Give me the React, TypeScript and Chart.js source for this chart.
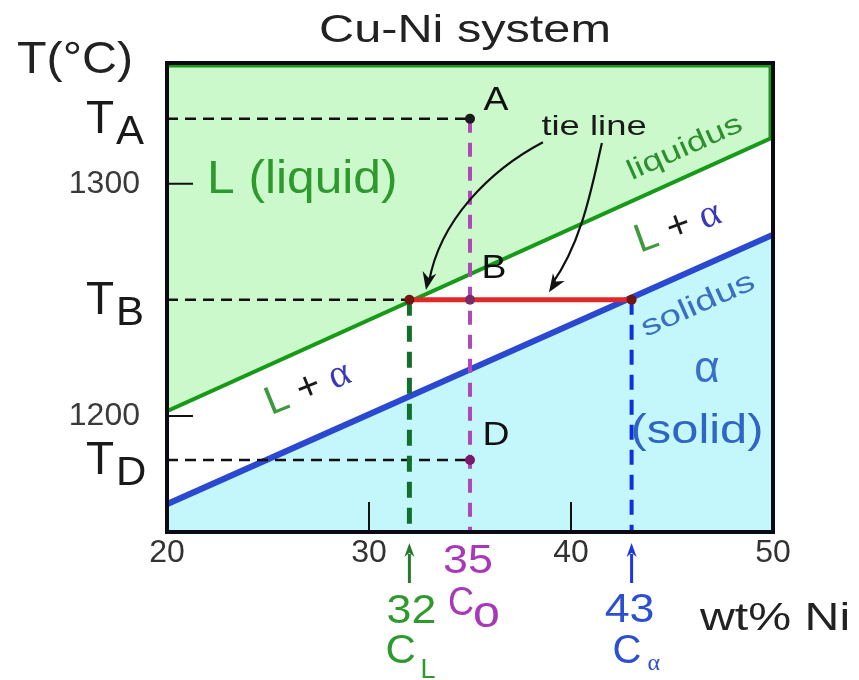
import React, { useEffect, useRef } from "react";
import { Chart, registerables } from "chart.js";

Chart.register(...registerables);

// ---- data ----
const X_RANGE = [20, 50];
const Y_RANGE = [1150, 1352];
const xTickValues = [20, 30, 40, 50];
const yTickValues = [1200, 1300];
const boundaryComposition = [20, 50];
const liquidusTemp = [1202, 1320];
const solidusTemp = [1162, 1278];
const C0 = 35;
const CL = 32;
const CALPHA = 43;
const TA = 1328;
const TB = 1250;
const TD = 1181;
const pointComposition = [C0, C0, C0, CL, CALPHA];
const pointTemp = [TA, TB, TD, TB, TB];

const FONT = "'Liberation Sans', Arial, sans-serif";
const SERIF = "'Liberation Serif', 'DejaVu Serif', serif";

type P = { x: number; y: number };
const pts = (xs: number[], ys: number[]): P[] => xs.map((x, i) => ({ x, y: ys[i] }));

function txt(
  ctx: CanvasRenderingContext2D,
  s: string,
  x: number,
  y: number,
  size: number,
  color: string,
  o: { align?: CanvasTextAlign; sx?: number; rot?: number; base?: CanvasTextBaseline; family?: string } = {}
) {
  ctx.save();
  ctx.translate(x, y);
  if (o.rot) ctx.rotate(o.rot);
  ctx.scale(o.sx ?? 1, 1);
  ctx.font = `${size}px ${o.family ?? FONT}`;
  ctx.fillStyle = color;
  ctx.textAlign = o.align ?? "left";
  ctx.textBaseline = o.base ?? "alphabetic";
  ctx.fillText(s, 0, 0);
  ctx.restore();
}

function multi(
  ctx: CanvasRenderingContext2D,
  parts: { s: string; c: string; f?: string }[],
  cx: number,
  cy: number,
  size: number,
  rot: number
) {
  ctx.save();
  ctx.translate(cx, cy);
  ctx.rotate(rot);
  ctx.textBaseline = "middle";
  ctx.textAlign = "left";
  let total = 0;
  const widths = parts.map((p) => {
    ctx.font = `${size}px ${p.f ?? FONT}`;
    const w = ctx.measureText(p.s).width;
    total += w;
    return w;
  });
  let x = -total / 2;
  parts.forEach((p, i) => {
    ctx.font = `${size}px ${p.f ?? FONT}`;
    ctx.fillStyle = p.c;
    ctx.fillText(p.s, x, 0);
    x += widths[i];
  });
  ctx.restore();
}

function arrowHead(ctx: CanvasRenderingContext2D, tx: number, ty: number, ang: number, len: number, half: number, color: string) {
  ctx.save();
  ctx.translate(tx, ty);
  ctx.rotate(ang);
  ctx.beginPath();
  ctx.moveTo(0, 0);
  ctx.lineTo(-len, -half);
  ctx.lineTo(-len * 0.7, 0);
  ctx.lineTo(-len, half);
  ctx.closePath();
  ctx.fillStyle = color;
  ctx.fill();
  ctx.restore();
}

// curved leader arrows from "tie line" label (data coordinates: start, cp1, cp2, tip)
const leaderLeft = [
  [38.61, 1317.9],
  [35.99, 1305.9],
  [33.51, 1284.3],
  [32.82, 1254.2],
];
const leaderRight = [
  [41.53, 1317.5],
  [41.04, 1299.4],
  [40.59, 1275.7],
  [38.91, 1253.3],
];

const annotPlugin = {
  id: "annot",
  afterDraw(chart: any) {
    const ctx: CanvasRenderingContext2D = chart.ctx;
    const xs = chart.scales.x;
    const ys = chart.scales.y;
    const px = (v: number) => xs.getPixelForValue(v);
    const py = (v: number) => ys.getPixelForValue(v);
    const { left, right, top, bottom } = chart.chartArea;
    const DEG = Math.PI / 180;

    // green edge at top & right of the liquid field
    ctx.save();
    ctx.strokeStyle = "#179a17";
    ctx.lineWidth = 3;
    ctx.beginPath();
    ctx.moveTo(left, top + 3);
    ctx.lineTo(right - 3, top + 3);
    ctx.lineTo(right - 3, py(liquidusTemp[1]));
    ctx.stroke();
    ctx.restore();

    // inward tick marks
    ctx.save();
    ctx.strokeStyle = "#111";
    ctx.lineWidth = 2;
    ctx.beginPath();
    xTickValues.slice(1, -1).forEach((v) => {
      ctx.moveTo(px(v), bottom);
      ctx.lineTo(px(v), bottom - 30);
    });
    yTickValues.forEach((v) => {
      ctx.moveTo(left, py(v));
      ctx.lineTo(left + 26, py(v));
    });
    ctx.stroke();
    ctx.restore();

    // frame
    ctx.save();
    ctx.strokeStyle = "#0a0a14";
    ctx.lineWidth = 4;
    ctx.strokeRect(left, top, right - left, bottom - top);
    ctx.restore();

    // leader arrows
    ctx.save();
    ctx.strokeStyle = "#111";
    ctx.lineWidth = 2.2;
    [leaderLeft, leaderRight].forEach((l) => {
      const p = l.map(([a, b]) => [px(a), py(b)]);
      ctx.beginPath();
      ctx.moveTo(p[0][0], p[0][1]);
      ctx.bezierCurveTo(p[1][0], p[1][1], p[2][0], p[2][1], p[3][0] + 3, p[3][1] - 8);
      ctx.stroke();
      const ang = Math.atan2(p[3][1] - p[2][1], p[3][0] - p[2][0]);
      arrowHead(ctx, p[3][0], p[3][1], ang, 18, 7, "#111");
    });
    ctx.restore();

    // texts inside plot
    txt(ctx, "L (liquid)", px(21.98), py(1296), 46, "#2e9a2e", { sx: 1.08 });
    txt(ctx, "tie line", px(41.14), py(1321), 28, "#1a1a1a", { align: "center", sx: 1.3 });
    txt(ctx, "liquidus", px(45.64), py(1315.4), 28, "#2e8f2e", { align: "center", base: "middle", sx: 1.3, rot: -24 * DEG });
    txt(ctx, "solidus", px(46.29), py(1247.7), 29, "#3b6fc0", { align: "center", base: "middle", sx: 1.35, rot: -24 * DEG });
    multi(
      ctx,
      [
        { s: "L", c: "#3f9a3f" },
        { s: " + ", c: "#1a1a1a" },
        { s: "α", c: "#3a3ab8", f: SERIF },
      ],
      px(45.3),
      py(1281.3),
      40,
      -20 * DEG
    );
    multi(
      ctx,
      [
        { s: "L", c: "#3f9a3f" },
        { s: " + ", c: "#1a1a1a" },
        { s: "α", c: "#3a3ab8", f: SERIF },
      ],
      px(26.98),
      py(1211.9),
      40,
      -22 * DEG
    );
    txt(ctx, "α", px(46.73), py(1219.7), 44, "#3a6fc8", { align: "center", base: "middle" });
    txt(ctx, "(solid)", px(46.24), py(1188.2), 40, "#2f66c4", { align: "center", sx: 1.22 });
    txt(ctx, "A", px(36.29), py(1331.7), 34, "#111", { align: "center", sx: 1.1 });
    txt(ctx, "B", px(36.19), py(1259.3), 34, "#111", { align: "center", sx: 1.1 });
    txt(ctx, "D", px(36.29), py(1187.3), 34, "#111", { align: "center", sx: 1.1 });

    // title & axis titles
    txt(ctx, "Cu-Ni system", (left + right) / 2 - 5, top - 21, 38, "#222", { align: "center", sx: 1.28 });
    txt(ctx, "T(°C)", left - 150, top + 10, 44, "#222", { sx: 1.1 });
    txt(ctx, "wt% Ni", right - 73, bottom + 98, 38, "#222", { sx: 1.27 });

    // T labels
    [
      [TA, "A"],
      [TB, "B"],
      [TD, "D"],
    ].forEach(([t, s]) => {
      const y = py(t as number);
      txt(ctx, "T", left - 81, y + 14, 46, "#1a1a1a", { sx: 1.0 });
      txt(ctx, s as string, left - 51, y + 25, 40, "#1a1a1a", { sx: 1.05 });
    });

    // bottom composition labels
    const b = bottom;
    const drawUpArrow = (x: number, color: string) => {
      ctx.save();
      ctx.strokeStyle = color;
      ctx.lineWidth = 3;
      ctx.beginPath();
      ctx.moveTo(x, b + 51);
      ctx.lineTo(x, b + 22);
      ctx.stroke();
      arrowHead(ctx, x, b + 11, -Math.PI / 2, 14, 5, color);
      ctx.restore();
    };
    const g = "#2e9a2e";
    drawUpArrow(px(CL), "#237a2b");
    txt(ctx, String(CL), px(CL) + 2, b + 91, 40, g, { align: "center", sx: 1.12 });
    txt(ctx, "C", px(CL) - 24, b + 131, 40, g, { sx: 1.05 });
    txt(ctx, "L", px(CL) + 11, b + 146, 27, g);

    const pu = "#a838b8";
    txt(ctx, String(C0), px(C0) - 2, b + 41, 40, pu, { align: "center", sx: 1.12 });
    txt(ctx, "C", px(C0) - 22, b + 83, 40, pu, { sx: 0.9 });
    txt(ctx, "o", px(C0) + 3, b + 95, 44, pu, { sx: 1.1 });

    const bl = "#2c4fd0";
    drawUpArrow(px(CALPHA), "#1f36e0");
    txt(ctx, String(CALPHA), px(CALPHA) - 2, b + 90, 40, bl, { align: "center", sx: 1.12 });
    txt(ctx, "C", px(CALPHA) - 19, b + 131, 40, bl, { sx: 1.0 });
    txt(ctx, "α", px(CALPHA) + 16, b + 138, 24, bl, { family: SERIF });
  },
};

export default function App() {
  const ref = useRef<HTMLCanvasElement | null>(null);

  useEffect(() => {
    if (!ref.current) return;
    const chart = new Chart(ref.current, {
      type: "line",
      data: {
        datasets: [
          {
            label: "liquidus",
            data: pts(boundaryComposition, liquidusTemp),
            borderColor: "#179a17",
            borderWidth: 4,
            backgroundColor: "#ccf9cc",
            fill: "end",
            pointRadius: 0,
            order: 10,
          },
          {
            label: "solidus",
            data: pts(boundaryComposition, solidusTemp),
            borderColor: "#2a48d0",
            borderWidth: 6,
            backgroundColor: "#c4f7fb",
            fill: "start",
            pointRadius: 0,
            order: 9,
          },
          {
            label: "TA",
            data: pts([X_RANGE[0], C0], [TA, TA]),
            borderColor: "#111",
            borderWidth: 2.5,
            borderDash: [11, 7],
            pointRadius: 0,
            fill: false,
            order: 5,
          },
          {
            label: "TB",
            data: pts([X_RANGE[0], CL], [TB, TB]),
            borderColor: "#111",
            borderWidth: 2.5,
            borderDash: [11, 7],
            pointRadius: 0,
            fill: false,
            order: 5,
          },
          {
            label: "TD",
            data: pts([X_RANGE[0], C0], [TD, TD]),
            borderColor: "#111",
            borderWidth: 2.5,
            borderDash: [11, 7],
            pointRadius: 0,
            fill: false,
            order: 5,
          },
          {
            label: "C0",
            data: pts([C0, C0], [TA, Y_RANGE[0]]),
            borderColor: "#b048b8",
            borderWidth: 4,
            borderDash: [14, 10],
            pointRadius: 0,
            fill: false,
            order: 4,
          },
          {
            label: "CL",
            data: pts([CL, CL], [TB, Y_RANGE[0]]),
            borderColor: "#12702a",
            borderWidth: 5,
            borderDash: [16, 10],
            pointRadius: 0,
            fill: false,
            order: 4,
          },
          {
            label: "Calpha",
            data: pts([CALPHA, CALPHA], [TB, Y_RANGE[0]]),
            borderColor: "#1030e0",
            borderWidth: 4,
            borderDash: [15, 10],
            pointRadius: 0,
            fill: false,
            order: 4,
          },
          {
            label: "tie line",
            data: pts([CL, CALPHA], [TB, TB]),
            borderColor: "#e02828",
            borderWidth: 5,
            pointRadius: 0,
            fill: false,
            order: 2,
          },
          {
            label: "points",
            data: pts(pointComposition, pointTemp),
            showLine: false,
            pointRadius: 5,
            pointBorderWidth: 0,
            pointBackgroundColor: ["#1a1a1a", "#7a2a66", "#7a1a6a", "#701414", "#701414"],
            fill: false,
            order: 1,
          },
        ],
      },
      options: {
        animation: false,
        responsive: true,
        maintainAspectRatio: false,
        events: [],
        layout: { padding: { left: 0, right: 86, top: 63, bottom: 0 } },
        plugins: {
          legend: { display: false },
          tooltip: { enabled: false },
          title: { display: false },
        },
        scales: {
          x: {
            type: "linear",
            min: X_RANGE[0],
            max: X_RANGE[1],
            afterBuildTicks: (s: any) => {
              s.ticks = xTickValues.map((v) => ({ value: v }));
            },
            afterFit: (s: any) => {
              s.height = 148;
            },
            grid: { display: false, drawTicks: false },
            border: { display: false },
            ticks: {
              padding: 2,
              color: "#333",
              font: { family: FONT, size: 32 },
              maxRotation: 0,
              autoSkip: false,
              callback: (v: any) => String(v),
            },
          },
          y: {
            type: "linear",
            min: Y_RANGE[0],
            max: Y_RANGE[1],
            afterBuildTicks: (s: any) => {
              s.ticks = yTickValues.map((v) => ({ value: v }));
            },
            afterFit: (s: any) => {
              s.width = 167;
            },
            grid: { display: false, drawTicks: false },
            border: { display: false },
            ticks: {
              padding: 27,
              color: "#3a3a3a",
              font: { family: FONT, size: 32 },
              autoSkip: false,
              callback: (v: any) => String(v),
            },
          },
        },
      },
      plugins: [annotPlugin],
    } as any);
    return () => chart.destroy();
  }, []);

  return (
    <div style={{ position: "absolute", left: 0, top: 0, width: 859, height: 680, background: "#fff" }}>
      <canvas ref={ref} />
    </div>
  );
}
